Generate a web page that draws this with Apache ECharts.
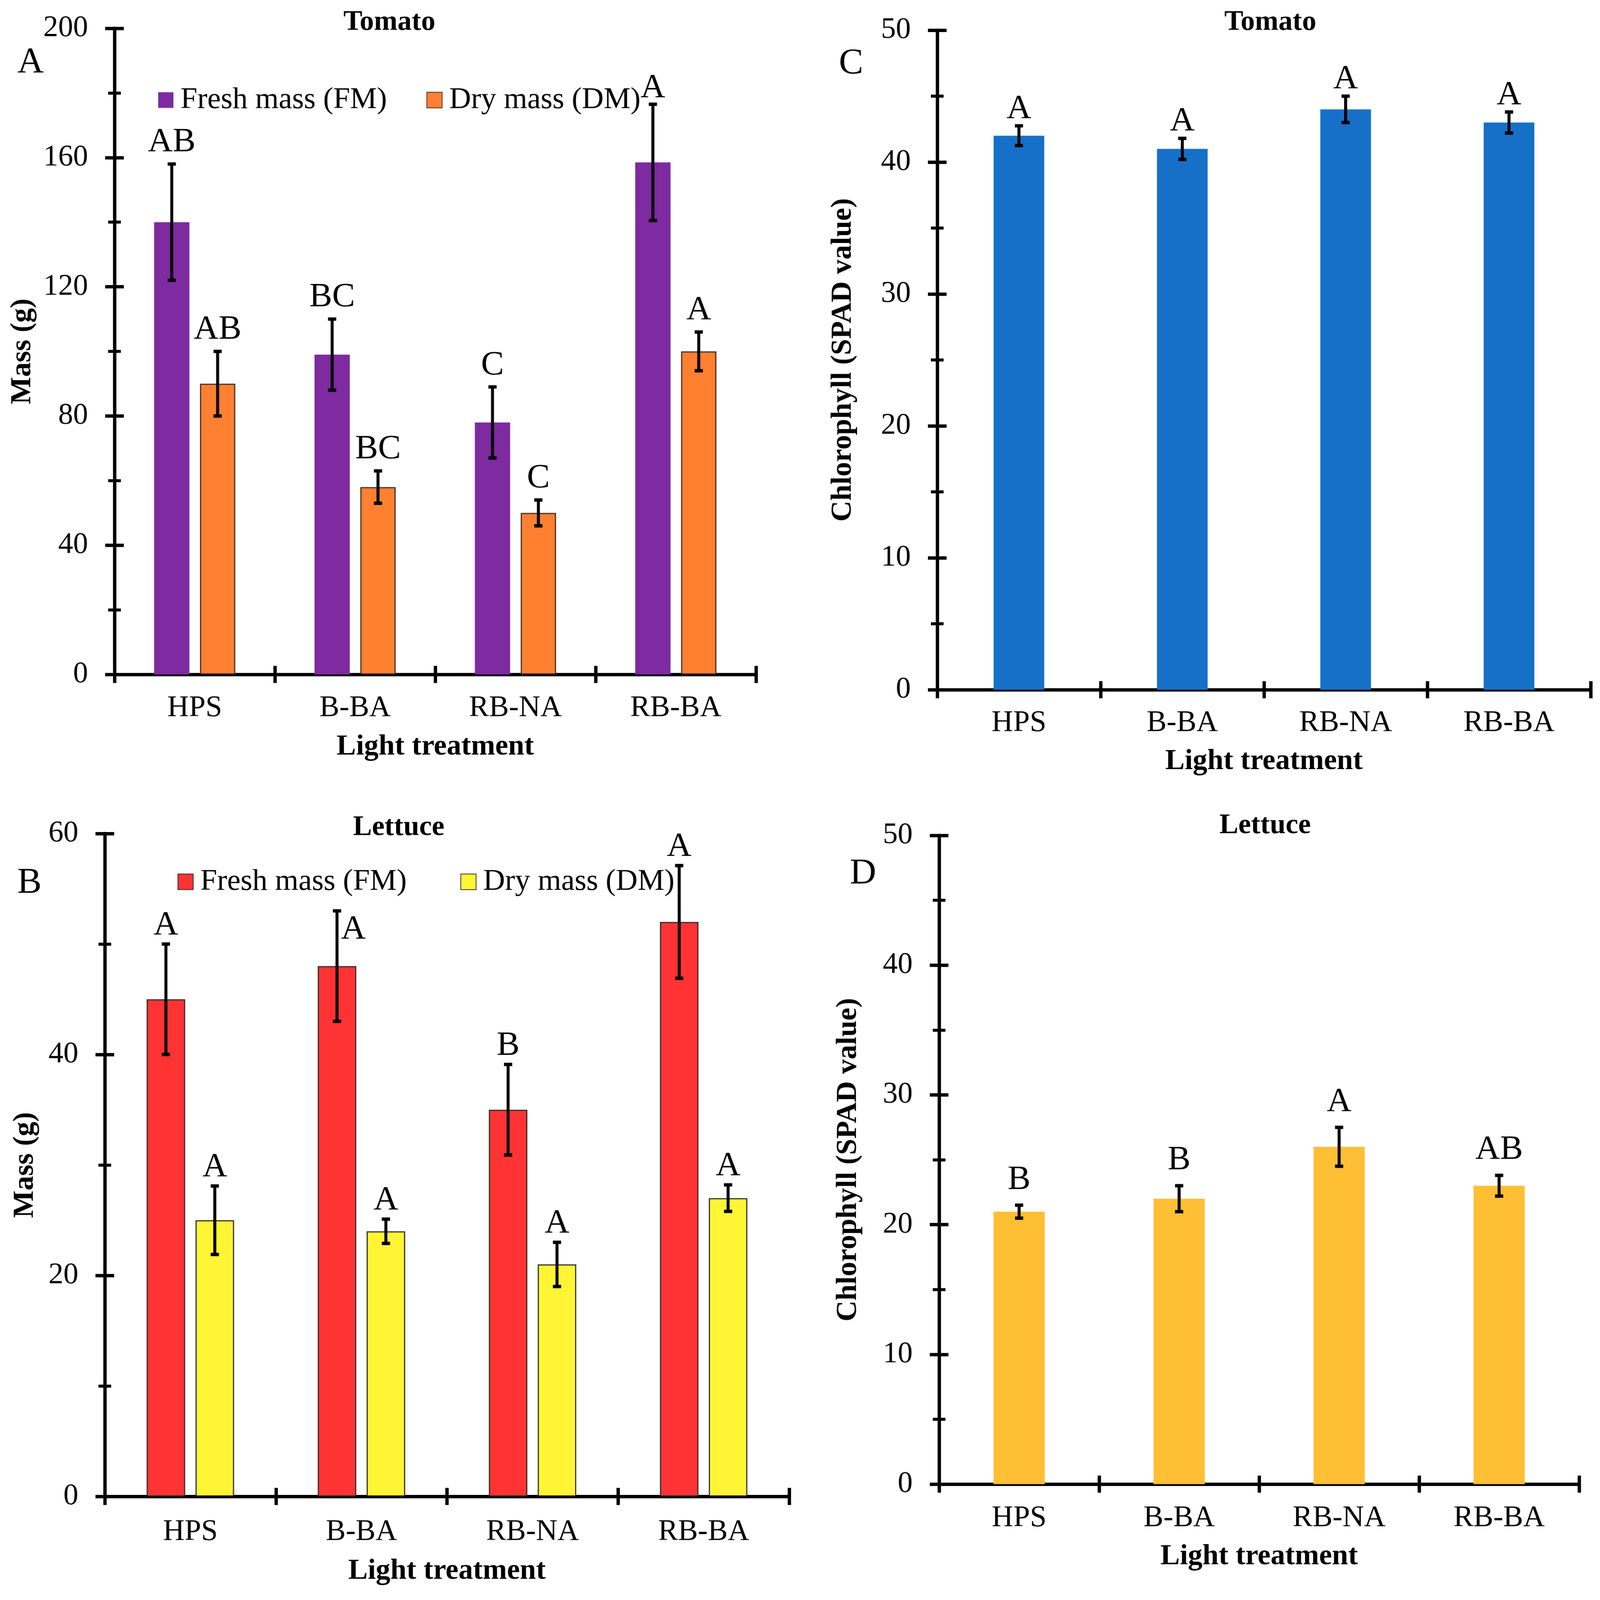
<!DOCTYPE html>
<html><head><meta charset="utf-8">
<script src="https://cdn.jsdelivr.net/npm/echarts@6/dist/echarts.min.js"></script>
<style>html,body{margin:0;padding:0;background:#fff;overflow:hidden;width:100%;height:100%}#c{width:4290px;height:4294px;transform-origin:0 0;position:absolute;left:0;top:0}</style>
</head><body><div id="c"></div>
<script>
// ---------------- DATA ----------------
const categories = ['HPS', 'B-BA', 'RB-NA', 'RB-BA'];

// Panel A: Tomato mass (g)
const tomatoFM = [140, 99, 78, 158.5];
const tomatoFMerr = [18, 11, 11, 18];
const tomatoFMletters = ['AB', 'BC', 'C', 'A'];
const tomatoDM = [90, 58, 50, 100];
const tomatoDMerr = [10, 5, 4, 6];
const tomatoDMletters = ['AB', 'BC', 'C', 'A'];
const tomatoMassAxis = [0, 200, 40];   // min, max, interval

// Panel B: Lettuce mass (g)
const lettuceFM = [45, 48, 35, 52];
const lettuceFMerr = [5, 5, 4.1, 5.1];
const lettuceFMletters = ['A', 'A', 'B', 'A'];
const lettuceDM = [25, 24, 21, 27];
const lettuceDMerr = [3.1, 1.1, 2, 1.2];
const lettuceDMletters = ['A', 'A', 'A', 'A'];
const lettuceMassAxis = [0, 60, 20];

// Panel C: Tomato chlorophyll (SPAD)
const tomatoSPAD = [42, 41, 44, 43];
const tomatoSPADerr = [0.75, 0.8, 1.0, 0.8];
const tomatoSPADletters = ['A', 'A', 'A', 'A'];
const tomatoSPADAxis = [0, 50, 10];

// Panel D: Lettuce chlorophyll (SPAD)
const lettuceSPAD = [21, 22, 26, 23];
const lettuceSPADerr = [0.5, 1, 1.5, 0.8];
const lettuceSPADletters = ['B', 'B', 'A', 'AB'];
const lettuceSPADAxis = [0, 50, 10];

const legendLabels = { FM: 'Fresh mass (FM)', DM: 'Dry mass (DM)' };

// ---------------- LAYOUT / STYLE ----------------
const FONT = 'Liberation Serif';
const panels = [
  { key: 'A', title: 'Tomato', titlePos: [1044, 60], letterPos: [82, 168],
    grid: { left: 307, top: 76, width: 1720, height: 1734 }, axis: tomatoMassAxis,
    yName: 'Mass (g)', yNameGap: 207, xLabelMargin: 51, xNameGap: 156,
    barWidth: 22, barGap: 30, letterGap: 58, capHalf: 11,
    legend: { left: 424, top: 228, itemGap: 106 },
    series: [
      { id: 'FM', values: tomatoFM, errs: tomatoFMerr, letters: tomatoFMletters, color: '#7E2AA0' },
      { id: 'DM', values: tomatoDM, errs: tomatoDMerr, letters: tomatoDMletters, color: '#FF8030', border: '#3a2a20' }
    ], nudges: [{ series: 0, index: 3, dx: 0, dy: 15 }] },
  { key: 'C', title: 'Tomato', titlePos: [3406, 60], letterPos: [2282, 171],
    grid: { left: 2513, top: 81, width: 1752, height: 1770 }, axis: tomatoSPADAxis,
    yName: 'Chlorophyll (SPAD value)', yNameGap: 213, xLabelMargin: 50, xNameGap: 154,
    barWidth: 31, barGap: 30, letterGap: 45, capHalf: 11,
    series: [
      { id: 'S', values: tomatoSPAD, errs: tomatoSPADerr, letters: tomatoSPADletters, color: '#1670C8' }
    ], nudges: [] },
  { key: 'B', title: 'Lettuce', titlePos: [1069, 2221], letterPos: [79, 2370],
    grid: { left: 281, top: 2237, width: 1835, height: 1779 }, axis: lettuceMassAxis,
    yName: 'Mass (g)', yNameGap: 174, xLabelMargin: 56, xNameGap: 162,
    barWidth: 22.5, barGap: 27, letterGap: 50, capHalf: 11,
    legend: { left: 476, top: 2326, itemGap: 144 },
    series: [
      { id: 'FM', values: lettuceFM, errs: lettuceFMerr, letters: lettuceFMletters, color: '#FF3333', border: '#2a2a2a' },
      { id: 'DM', values: lettuceDM, errs: lettuceDMerr, letters: lettuceDMletters, color: '#FFF535', border: '#2a2a2a' }
    ], nudges: [{ series: 0, index: 1, dx: 44, dy: 100 }] },
  { key: 'D', title: 'Lettuce', titlePos: [3392, 2216], letterPos: [2314, 2345],
    grid: { left: 2518, top: 2242, width: 1716, height: 1741 }, axis: lettuceSPADAxis,
    yName: 'Chlorophyll (SPAD value)', yNameGap: 204, xLabelMargin: 52, xNameGap: 156,
    barWidth: 32, barGap: 30, letterGap: 68, capHalf: 11,
    series: [
      { id: 'S', values: lettuceSPAD, errs: lettuceSPADerr, letters: lettuceSPADletters, color: '#FFBF35' }
    ], nudges: [] }
];

const axisLine = { show: true, lineStyle: { color: '#000', width: 9 } };
const tickStyle = { color: '#000', width: 9 };

const option = {
  animation: false,
  backgroundColor: '#fff',
  grid: [], xAxis: [], yAxis: [], series: [], legend: [], graphic: []
};

function errRenderer(p, s, offsetFrac) {
  return function (params, api) {
    const idx = api.value(0), m = api.value(1), e = api.value(2);
    const band = api.size([1, 0])[0];
    const c = api.coord([idx, m]);
    const x = c[0] + offsetFrac * band;
    const yt = api.coord([idx, m + e])[1];
    const yb = api.coord([idx, m - e])[1];
    const st = { stroke: '#000', lineWidth: 8 };
    const cst = { stroke: '#000', lineWidth: 9 };
    const n = p.nudges.find(q => q.series === s.i && q.index === params.dataIndex) || { dx: 0, dy: 0 };
    return {
      type: 'group', children: [
        { type: 'line', shape: { x1: x, y1: yt, x2: x, y2: yb }, style: st },
        { type: 'line', shape: { x1: x - p.capHalf, y1: yt, x2: x + p.capHalf, y2: yt }, style: cst },
        { type: 'line', shape: { x1: x - p.capHalf, y1: yb, x2: x + p.capHalf, y2: yb }, style: cst },
        { type: 'text', x: x + n.dx, y: yt - p.letterGap + n.dy,
          style: { text: s.letters[params.dataIndex], fill: '#000', fontSize: 92, fontFamily: FONT,
                   align: 'center', verticalAlign: 'middle', textAlign: 'center', textVerticalAlign: 'middle' } }
      ]
    };
  };
}

panels.forEach((p, gi) => {
  option.grid.push(Object.assign({ containLabel: false, outerBoundsMode: 'none' }, p.grid));
  const xi = option.xAxis.length, yi = option.yAxis.length;
  // main x axis (outside ticks + labels + name)
  option.xAxis.push({
    type: 'category', gridIndex: gi, position: 'bottom', data: categories,
    axisLine: axisLine,
    axisTick: { show: true, interval: 0, length: 23, lineStyle: tickStyle },
    axisLabel: { interval: 0, margin: p.xLabelMargin, color: '#000', fontSize: 80, fontFamily: FONT },
    name: 'Light treatment', nameLocation: 'middle', nameGap: p.xNameGap,
    nameTextStyle: { color: '#000', fontSize: 78, fontWeight: 'bold', fontFamily: FONT },
    splitLine: { show: false }
  });
  // duplicate x axis for inner half of cross ticks
  option.xAxis.push({
    type: 'category', gridIndex: gi, position: 'bottom', offset: 0, data: categories,
    axisLine: { show: false },
    axisTick: { show: true, inside: true, interval: 0, length: 23, lineStyle: tickStyle },
    axisLabel: { show: false }, splitLine: { show: false }
  });
  const [mn, mx, iv] = p.axis;
  option.yAxis.push({
    type: 'value', gridIndex: gi, position: 'left', min: mn, max: mx, interval: iv,
    axisLine: axisLine,
    axisTick: { show: true, length: 25, lineStyle: tickStyle },
    minorTick: { show: true, splitNumber: 2, length: 17, lineStyle: { color: '#000', width: 8 } },
    axisLabel: { margin: 71, color: '#000', fontSize: 80, fontFamily: FONT },
    name: p.yName, nameLocation: 'middle', nameGap: p.yNameGap,
    nameTextStyle: { color: '#000', fontSize: 78, fontWeight: 'bold', fontFamily: FONT },
    splitLine: { show: false }, minorSplitLine: { show: false }
  });
  option.yAxis.push({
    type: 'value', gridIndex: gi, position: 'left', offset: 0, min: mn, max: mx, interval: iv,
    axisLine: { show: false },
    axisTick: { show: true, inside: true, length: 25, lineStyle: tickStyle },
    minorTick: { show: true, splitNumber: 2, length: 17, lineStyle: { color: '#000', width: 8 } },
    axisLabel: { show: false }, splitLine: { show: false }, minorSplitLine: { show: false }
  });

  const n = p.series.length;
  const w = p.barWidth / 100, g = p.barGap / 100;
  p.series.forEach((s, si) => {
    s.i = si;
    const name = p.key + '-' + s.id;
    const itemStyle = { color: s.color };
    if (s.border) { itemStyle.borderColor = s.border; itemStyle.borderWidth = 3; }
    option.series.push({
      type: 'bar', name: name, xAxisIndex: xi, yAxisIndex: yi,
      data: s.values, barWidth: p.barWidth + '%', barGap: p.barGap + '%',
      itemStyle: itemStyle, z: 2
    });
    const offsetFrac = n === 1 ? 0 : (si === 0 ? -1 : 1) * w * (1 + g) / 2;
    option.series.push({
      type: 'custom', name: name + '-err', xAxisIndex: xi, yAxisIndex: yi,
      data: s.values.map((v, i) => [i, v, s.errs[i]]),
      renderItem: errRenderer(p, s, offsetFrac), clip: false, silent: true, z: 5
    });
  });

  if (p.legend) {
    option.legend.push({
      left: p.legend.left, top: p.legend.top, orient: 'horizontal', padding: 0,
      itemGap: p.legend.itemGap, itemWidth: 41, itemHeight: 42, icon: 'rect',
      selectedMode: false,
      data: p.series.map(s => p.key + '-' + s.id),
      formatter: nm => legendLabels[nm.split('-')[1]],
      textStyle: { color: '#000', fontSize: 81, fontFamily: FONT, padding: [0, 0, 0, 14] }
    });
  }

  option.graphic.push({
    type: 'text', x: p.titlePos[0], y: p.titlePos[1],
    style: { text: p.title, fill: '#000', fontSize: 76, fontWeight: 'bold', fontFamily: FONT,
             align: 'center', verticalAlign: 'middle', textAlign: 'center', textVerticalAlign: 'middle' }
  });
  option.graphic.push({
    type: 'text', x: p.letterPos[0], y: p.letterPos[1],
    style: { text: p.key, fill: '#000', fontSize: 98, fontFamily: FONT,
             align: 'center', verticalAlign: 'middle', textAlign: 'center', textVerticalAlign: 'middle' }
  });
});

// fit the 4290x4294 design into whatever viewport the page actually has
const el = document.getElementById('c');
const vw = window.innerWidth || document.documentElement.clientWidth || 4290;
const vh = window.innerHeight || document.documentElement.clientHeight || 4294;
el.style.transform = 'scale(' + (vw / 4290) + ',' + (vh / 4294) + ')';

const chart = echarts.init(el, null, { renderer: 'canvas' });
chart.setOption(option);
</script>
</body></html>
